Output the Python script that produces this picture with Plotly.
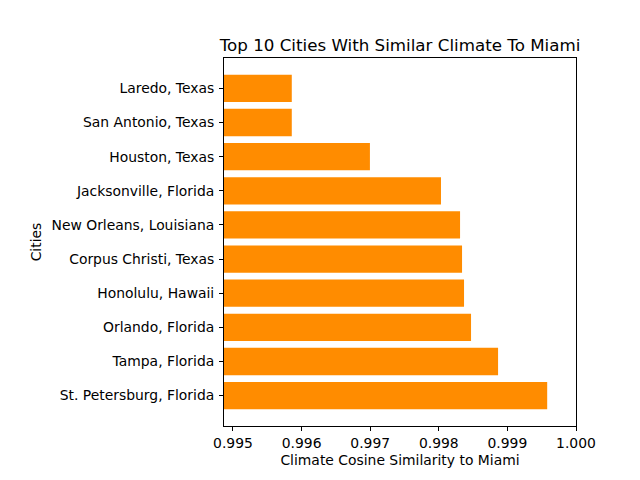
import plotly.graph_objects as go

cities = ["St. Petersburg, Florida", "Tampa, Florida", "Orlando, Florida", "Honolulu, Hawaii",
          "Corpus Christi, Texas", "New Orleans, Louisiana", "Jacksonville, Florida",
          "Houston, Texas", "San Antonio, Texas", "Laredo, Texas"]
similarity = [0.99958, 0.998864, 0.99847, 0.998368, 0.998339, 0.99831, 0.998032,
              0.996996, 0.995857, 0.995857]
x_ticks = [0.995, 0.996, 0.997, 0.998, 0.999, 1.000]
x_tick_labels = ["0.995", "0.996", "0.997", "0.998", "0.999", "1.000"]

fig = go.Figure(go.Bar(
    x=similarity, y=cities, orientation="h",
    marker=dict(color="#FF8C00", line=dict(width=0)),
    width=0.8,
))

axis_common = dict(showline=True, linecolor="black", linewidth=1, mirror=True,
                   ticks="outside", ticklen=4, tickwidth=1, tickcolor="black",
                   showgrid=False, zeroline=False, automargin=False,
                   tickfont=dict(family="DejaVu Sans", size=13.9, color="black"))

fig.update_layout(
    width=640, height=480,
    margin=dict(l=224, r=64, t=58, b=54),
    paper_bgcolor="white", plot_bgcolor="white",
    font=dict(family="DejaVu Sans", size=13.9, color="black"),
    title=dict(text="Top 10 Cities With Similar Climate To Miami",
               font=dict(family="DejaVu Sans", size=16.7, color="black"),
               x=0.5, xref="paper", xanchor="center",
               y=1, yref="paper", yanchor="bottom", pad=dict(b=7), automargin=False),
    xaxis=dict(range=[0.994869, 1.0], tickvals=x_ticks, ticktext=x_tick_labels,
               title=dict(text="Climate Cosine Similarity to Miami", standoff=5,
                          font=dict(family="DejaVu Sans", size=13.9, color="black")),
               **axis_common),
    yaxis=dict(type="category", categoryorder="array", categoryarray=cities,
               range=[-0.89, 9.89], ticklabelstandoff=2,
               title=dict(text="Cities", standoff=6,
                          font=dict(family="DejaVu Sans", size=13.9, color="black")),
               **axis_common),
    showlegend=False,
    bargap=0.2,
)

fig.write_html("out.html", config={"displayModeBar": False},
               post_script="document.body.style.margin='0';")
